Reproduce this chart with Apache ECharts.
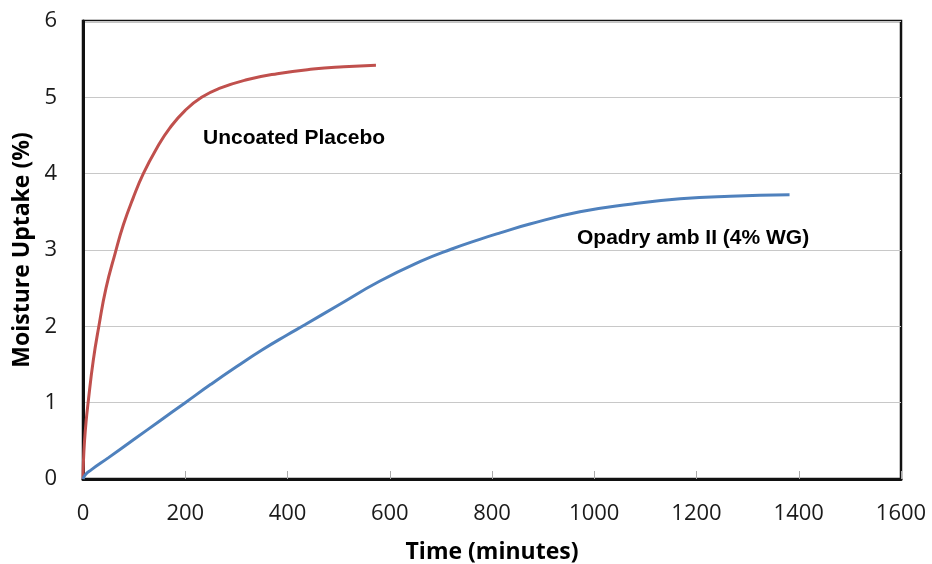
<!DOCTYPE html>
<html>
<head>
<meta charset="utf-8">
<script src="https://cdn.jsdelivr.net/npm/echarts@6/dist/echarts.min.js"></script>
<style>
html,body{margin:0;padding:0;background:#fff;}
#chart{width:932px;height:564px;}
</style>
</head>
<body>
<div id="chart"></div>
<script>
// Uncoated Placebo: [time (minutes), moisture uptake (%)]
var placeboData = [
  [0,0],[1,0.25],[3,0.5],[6,0.75],[10,1.0],[20,1.55],[31,2.0],[45,2.5],[63,2.96],
  [79,3.33],[98,3.68],[118,4.0],[144,4.33],[170,4.6],[200,4.83],[232,5.0],[268,5.12],
  [320,5.23],[380,5.31],[450,5.37],[510,5.40],[573,5.42]
];
// Opadry amb II (4% WG)
var opadryData = [
  [0,0],[5,0.06],[16,0.12],[50,0.28],[100,0.52],[150,0.76],[200,1.0],[250,1.24],
  [300,1.47],[350,1.69],[400,1.89],[434,2.02],[500,2.28],[580,2.59],[660,2.85],[720,3.01],
  [776,3.14],[816,3.225],[874,3.34],[972,3.5],[1070,3.6],[1168,3.67],[1266,3.705],[1382,3.725]
];
var xTicks = {min:0, max:1600, interval:200};
var yTicks = {min:0, max:6, interval:1};
var seriesNames = ['Uncoated Placebo', 'Opadry amb II (4% WG)'];
var axisTitles = {x:'Time (minutes)', y:'Moisture Uptake (%)'};

var chart = echarts.init(document.getElementById('chart'), null, {renderer:'canvas'});
var tickFont = {fontFamily:'Open Sans', fontSize:22, color:'#1a1a1a'};
chart.setOption({
  animation:false,
  backgroundColor:'#fff',
  grid:{left:83, right:31, top:21, bottom:85, outerBoundsMode:'none', containLabel:false,
        show:true, borderColor:'#111', borderWidth:2.5, backgroundColor:'transparent'},
  xAxis:{
    type:'value', min:xTicks.min, max:xTicks.max, interval:xTicks.interval,
    name:axisTitles.x, nameLocation:'middle', nameGap:62,
    nameTextStyle:{fontFamily:'Open Sans', fontWeight:'bold', fontSize:23, color:'#000'},
    axisLine:{show:true, lineStyle:{color:'#111', width:3}},
    axisTick:{show:true, inside:true, length:8, lineStyle:{color:'#aaa', width:1}},
    axisLabel:Object.assign({margin:24, formatter:function(v){return String(v);}}, tickFont),
    splitLine:{show:false}
  },
  yAxis:{
    type:'value', min:yTicks.min, max:yTicks.max, interval:yTicks.interval,
    name:axisTitles.y, nameLocation:'middle', nameGap:48, nameRotate:90,
    nameTextStyle:{fontFamily:'Open Sans', fontWeight:'bold', fontSize:23, color:'#000'},
    axisLine:{show:true, lineStyle:{color:'#111', width:3}},
    axisTick:{show:false},
    axisLabel:Object.assign({margin:26, formatter:function(v){return String(v);}}, tickFont),
    splitLine:{show:true, lineStyle:{color:'#c8c8c8', width:1}}
  },
  series:[
    {name:seriesNames[0], type:'line', data:placeboData, smooth:0.5, showSymbol:false,
     lineStyle:{color:'#c0504d', width:3}, z:3},
    {name:seriesNames[1], type:'line', data:opadryData, smooth:0.5, showSymbol:false,
     lineStyle:{color:'#4f81bd', width:3}, z:3}
  ],
  graphic:[
    {type:'text', left:203, top:128, style:{text:seriesNames[0], font:'bold 21px "Liberation Sans", Arial, sans-serif', fill:'#000'}},
    {type:'text', left:577, top:228, style:{text:seriesNames[1], font:'bold 21px "Liberation Sans", Arial, sans-serif', fill:'#000'}}
  ]
});
</script>
</body>
</html>
